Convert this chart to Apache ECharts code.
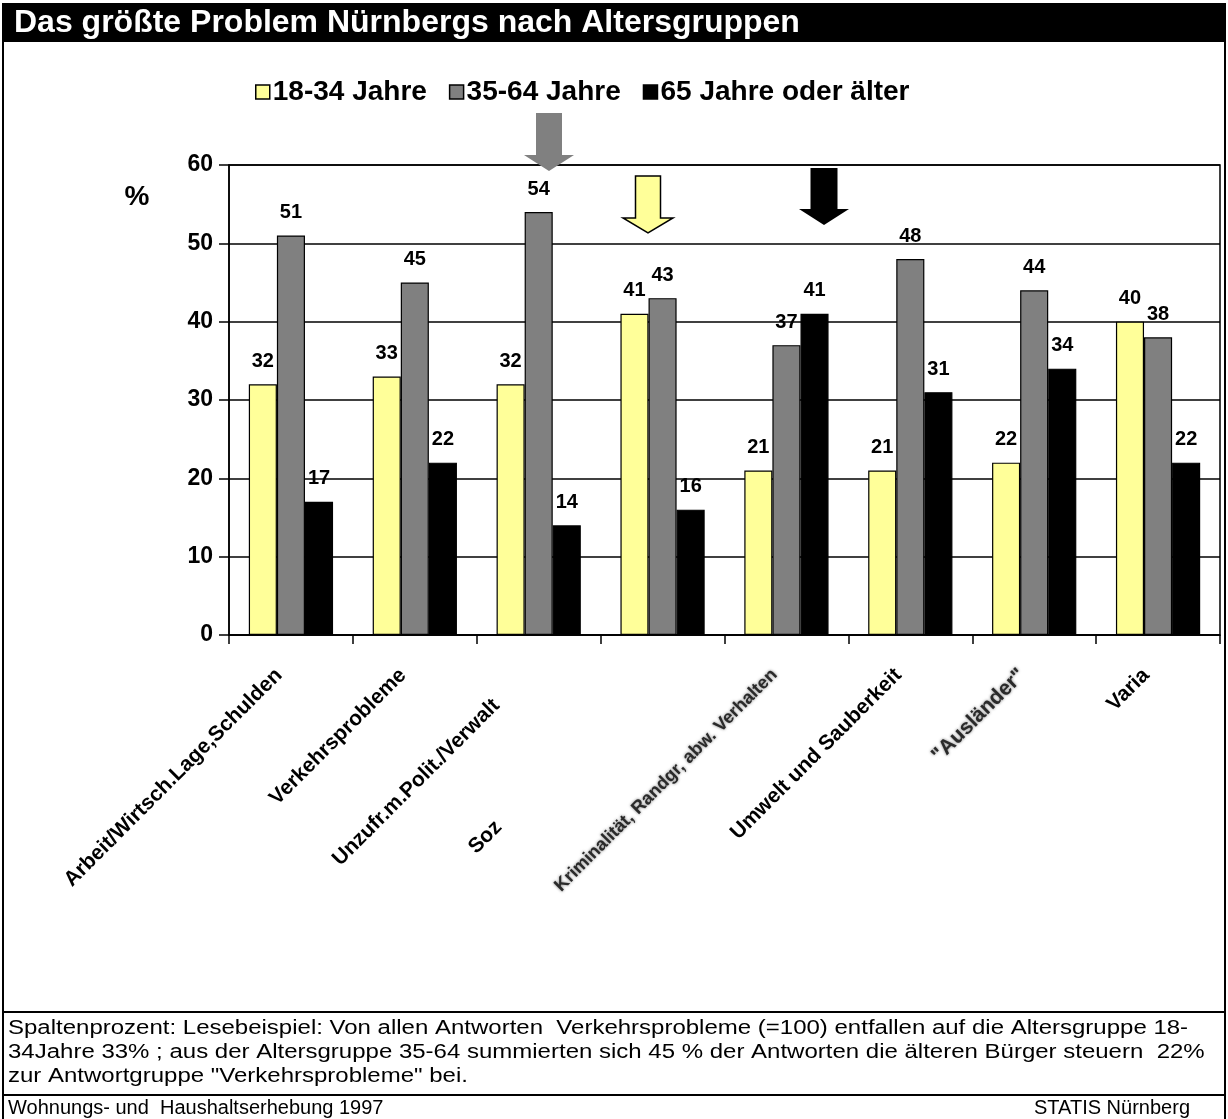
<!DOCTYPE html>
<html>
<head>
<meta charset="utf-8">
<script src="https://cdn.jsdelivr.net/npm/echarts@6/dist/echarts.min.js"></script>
<style>
  html, body { margin: 0; padding: 0; background: #fff; }
  #chart { width: 1228px; height: 1119px; }
</style>
</head>
<body>
<div id="chart"></div>
<script>
// Problem categories (x axis)
const categories = [
  'Arbeit/Wirtsch.Lage,Schulden',
  'Verkehrsprobleme',
  'Unzufr.m.Polit./Verwalt',
  'Soz',
  'Kriminalität, Randgr, abw. Verhalten',
  'Umwelt und Sauberkeit',
  '"Ausländer"',
  'Varia'
];
// Age groups (legend)
const groupNames = ['18-34 Jahre', '35-64 Jahre', '65 Jahre oder älter'];
// Column percentages per age group
const young  = [32, 33, 32, 41, 21, 21, 22, 40];
const middle = [51, 45, 54, 43, 37, 48, 44, 38];
const senior = [17, 22, 14, 16, 41, 31, 34, 22];
// Value axis ticks
const yTicks = [0, 10, 20, 30, 40, 50, 60];

const noteLines = [
  'Spaltenprozent: Lesebeispiel: Von allen Antworten  Verkehrsprobleme (=100) entfallen auf die Altersgruppe 18-',
  '34Jahre 33% ; aus der Altersgruppe 35-64 summierten sich 45 % der Antworten die älteren Bürger steuern  22%',
  'zur Antwortgruppe "Verkehrsprobleme" bei.'
];
const sourceLeft = 'Wohnungs- und  Haushaltserhebung 1997';
const sourceRight = 'STATIS Nürnberg';

const colors = ['#FFFF99', '#808080', '#000000'];
const FONT = 'Arial, "Liberation Sans", sans-serif';

const chart = echarts.init(document.getElementById('chart'), null, { renderer: 'canvas' });

function barSeries(name, data, color) {
  return {
    name: name,
    type: 'bar',
    data: data,
    barGap: '0%',
    barCategoryGap: '32%',
    itemStyle: { color: color, borderColor: '#000', borderWidth: 1.2 },
    label: {
      show: true,
      position: 'top',
      distance: 13,
      color: '#000',
      fontFamily: FONT,
      fontWeight: 'bold',
      fontSize: 20
    },
    emphasis: { disabled: true },
    z: 3
  };
}

// Labels that are partly hidden or printed softer
const labelStyleKey = {
  2: 'cut3',
  3: 'cut4',
  4: 'softSmall',
  6: 'soft'
};

const baseLabel = { fontFamily: FONT, fontWeight: 'bold', fontSize: 21, color: '#000' };
const softLook = { color: '#2a2a2a', textShadowColor: 'rgba(0,0,0,0.55)', textShadowBlur: 3 };

// Down-pointing block arrows marking each group's maximum
function arrow(cx, top, headTop, tip, shaftHalf, headHalf, fill, stroke) {
  return {
    type: 'polygon',
    shape: {
      points: [
        [cx - shaftHalf, top], [cx + shaftHalf, top], [cx + shaftHalf, headTop],
        [cx + headHalf, headTop], [cx, tip], [cx - headHalf, headTop],
        [cx - shaftHalf, headTop]
      ]
    },
    style: { fill: fill, stroke: stroke, lineWidth: stroke ? 1.5 : 0 },
    z: 20
  };
}

const graphics = [
  // frame and title bar
  { type: 'rect', shape: { x: 3, y: 3, width: 1223, height: 39 }, style: { fill: '#000' }, z: 10 },
  { type: 'text', x: 14, y: 23, style: { text: 'Das größte Problem Nürnbergs nach Altersgruppen', fill: '#fff', font: 'bold 32px ' + FONT, textVerticalAlign: 'middle' }, z: 11 },
  { type: 'line', shape: { x1: 3, y1: 3, x2: 3, y2: 1119 }, style: { stroke: '#000', lineWidth: 2 }, z: 10 },
  { type: 'line', shape: { x1: 1225, y1: 3, x2: 1225, y2: 1119 }, style: { stroke: '#000', lineWidth: 2 }, z: 10 },
  { type: 'line', shape: { x1: 3, y1: 1012, x2: 1226, y2: 1012 }, style: { stroke: '#000', lineWidth: 2 }, z: 10 },
  { type: 'line', shape: { x1: 3, y1: 1095, x2: 1226, y2: 1095 }, style: { stroke: '#000', lineWidth: 2 }, z: 10 },
  // unit label
  { type: 'text', x: 137, y: 197, style: { text: '%', fill: '#000', font: 'bold 28px ' + FONT, textAlign: 'center', textVerticalAlign: 'middle' }, z: 10 },
  arrow(549, 113, 155, 171, 13, 25, '#808080', null),
  arrow(648, 176, 218, 233, 12.5, 25, '#FFFF99', '#000'),
  arrow(824, 168, 209, 225, 13.5, 25, '#000', null)
];

noteLines.forEach(function (line, i) {
  graphics.push({
    type: 'text', x: 8, y: 1028 + i * 24, scaleX: 1.2,
    style: { text: line, fill: '#000', font: '20px ' + FONT, textVerticalAlign: 'middle' }, z: 10
  });
});
graphics.push({ type: 'text', x: 8, y: 1108, style: { text: sourceLeft, fill: '#000', font: '20px ' + FONT, textVerticalAlign: 'middle' }, z: 10 });
graphics.push({ type: 'text', x: 1190, y: 1108, style: { text: sourceRight, fill: '#000', font: '20px ' + FONT, textAlign: 'right', textVerticalAlign: 'middle' }, z: 10 });

const option = {
  backgroundColor: '#fff',
  animation: false,
  color: colors,
  legend: {
    data: groupNames,
    top: 73,
    left: 250,
    icon: 'rect',
    itemWidth: 14,
    itemHeight: 14,
    itemGap: 22,
    itemStyle: { borderColor: '#000', borderWidth: 1.5 },
    textStyle: { fontFamily: FONT, fontWeight: 'bold', fontSize: 28, color: '#000', padding: [0, 0, 0, -2] },
    selectedMode: false
  },
  grid: {
    left: 229,
    right: 8,
    top: 165,
    bottom: 484,
    show: true,
    borderColor: '#000',
    borderWidth: 1.5,
    backgroundColor: 'transparent'
  },
  xAxis: {
    type: 'category',
    data: categories,
    axisLine: { lineStyle: { color: '#000', width: 1.5 } },
    axisTick: { show: true, length: 9, lineStyle: { color: '#000', width: 1.5 } },
    axisLabel: {
      interval: 0,
      rotate: 45,
      margin: 25,
      ...baseLabel,
      formatter: function (value, idx) {
        const key = labelStyleKey[idx] || 'n';
        return '{' + key + '|' + value + '}';
      },
      rich: {
        n: { ...baseLabel, padding: [0, 17, 0, 0] },
        cut3: { ...baseLabel, padding: [0, 60, 0, 0] },
        cut4: { ...baseLabel, padding: [0, 232, 0, 0] },
        soft: { ...baseLabel, padding: [0, 17, 0, 0], ...softLook },
        softSmall: { ...baseLabel, fontSize: 18, padding: [0, 17, 0, 0], ...softLook }
      }
    },
    splitLine: { show: false }
  },
  yAxis: {
    type: 'value',
    min: yTicks[0],
    max: yTicks[yTicks.length - 1],
    interval: 10,
    axisLine: { show: true, lineStyle: { color: '#000', width: 1.5 } },
    axisTick: { show: true, length: 10, lineStyle: { color: '#000', width: 1.5 } },
    axisLabel: { margin: 16, fontFamily: FONT, fontWeight: 'bold', fontSize: 23, color: '#000' },
    splitLine: { show: true, lineStyle: { color: '#000', width: 1.5 } }
  },
  series: [
    barSeries(groupNames[0], young, colors[0]),
    barSeries(groupNames[1], middle, colors[1]),
    barSeries(groupNames[2], senior, colors[2])
  ],
  graphic: graphics
};

chart.setOption(option);
</script>
</body>
</html>
